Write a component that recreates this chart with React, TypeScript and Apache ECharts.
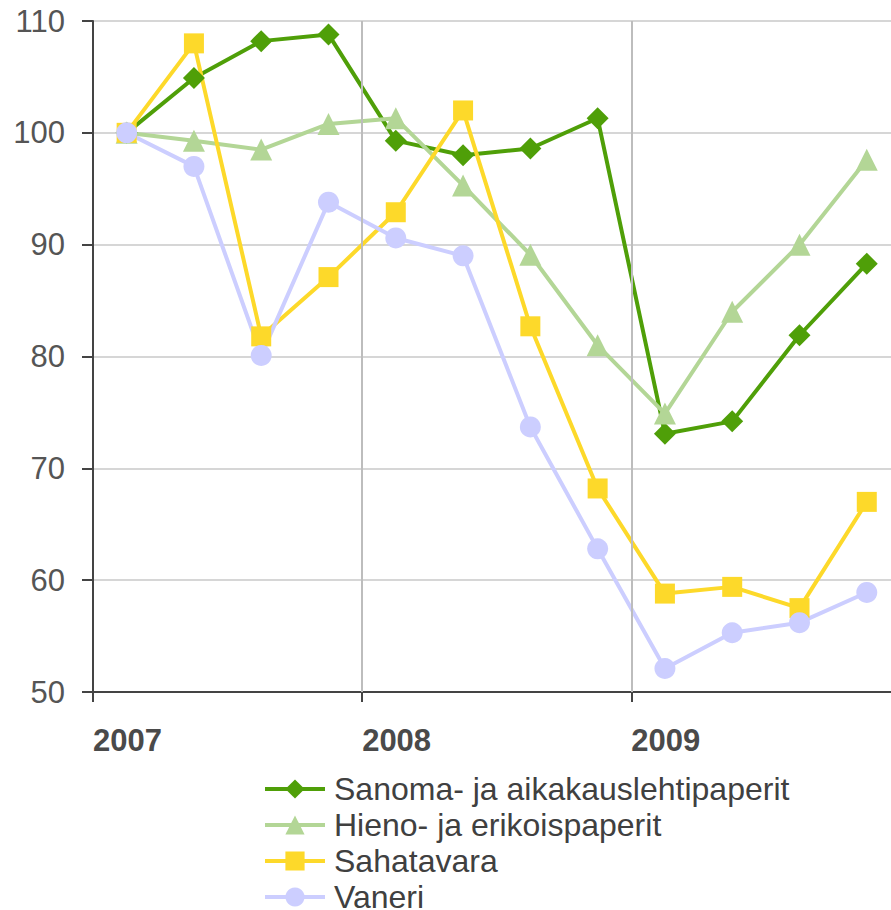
import React, { useEffect, useRef } from "react";
import * as echarts from "echarts";

const quarters = [0.5, 1.5, 2.5, 3.5, 4.5, 5.5, 6.5, 7.5, 8.5, 9.5, 10.5, 11.5];
const yearTicks = [0, 4, 8];
const yearLabels: Record<number, string> = { 0: "2007", 4: "2008", 8: "2009" };
const seriesNames = ["Sanoma- ja aikakauslehtipaperit", "Hieno- ja erikoispaperit", "Sahatavara", "Vaneri"];
const sanoma = [100, 104.9, 108.2, 108.8, 99.3, 98.0, 98.6, 101.3, 73.1, 74.2, 81.9, 88.3];
const hieno = [100, 99.3, 98.5, 100.8, 101.3, 95.3, 89.1, 81.0, 74.9, 84.0, 90.0, 97.6];
const sahatavara = [100, 108.0, 81.8, 87.1, 92.9, 102.0, 82.7, 68.2, 58.8, 59.4, 57.5, 67.0];
const vaneri = [100, 97.0, 80.1, 93.8, 90.6, 89.0, 73.7, 62.8, 52.1, 55.3, 56.2, 58.9];

const colors = ["#4f9f08", "#b3d696", "#fdd92a", "#ccceff"];
const symbols = ["diamond", "triangle", "rect", "circle"];
const symbolSizes = [22, 22, 20, 21];

export default function App() {
  const ref = useRef<HTMLDivElement>(null);
  useEffect(() => {
    const chart = echarts.init(ref.current!, null, { renderer: "svg" });
    const allData = [sanoma, hieno, sahatavara, vaneri];
    const lineSeries = seriesNames.map((name, i) => ({
      name,
      type: "line",
      z: 3,
      data: quarters.map((q, j) => [q, allData[i][j]]),
      symbol: symbols[i],
      symbolSize: symbolSizes[i],
      showAllSymbol: true,
      lineStyle: { color: colors[i], width: 4 },
      itemStyle: { color: colors[i] },
    }));
    chart.setOption({
      animation: false,
      textStyle: { fontFamily: "Liberation Sans, Arial, sans-serif" },
      grid: { left: 93, top: 21, bottom: 218, right: 0, containLabel: false },
      xAxis: {
        type: "value",
        min: 0,
        max: 11.86,
        interval: 4,
        axisLine: { show: true, onZero: false, lineStyle: { color: "#444", width: 2 } },
        axisTick: { show: true, length: 10, customValues: yearTicks, lineStyle: { color: "#444", width: 2 } },
        axisLabel: {
          show: true,
          customValues: yearTicks,
          margin: 33,
          fontSize: 31,
          fontWeight: "bold",
          color: "#4a4a4a",
          align: "left",
          formatter: (v: number) => yearLabels[v] ?? "",
        },
        splitLine: { show: false },
      },
      yAxis: {
        type: "value",
        min: 50,
        max: 110,
        interval: 10,
        axisLine: { show: true, lineStyle: { color: "#444", width: 2 } },
        axisTick: { show: true, length: 11, lineStyle: { color: "#444", width: 2 } },
        axisLabel: { margin: 28, fontSize: 31, color: "#555" },
        splitLine: { show: true, lineStyle: { color: "#d6d6d6", width: 2 } },
      },
      legend: {
        orient: "vertical",
        left: 258,
        top: 768,
        height: 200,
        itemWidth: 60,
        itemHeight: 24,
        itemGap: 4,
        lineStyle: { width: 4 },
        textStyle: { fontSize: 32, lineHeight: 32, color: "#404040", padding: [0, 0, 0, 4] },
        data: seriesNames,
      },
      series: [
        {
          name: "yearLines",
          type: "line",
          z: 1,
          data: [],
          silent: true,
          markLine: {
            silent: true,
            symbol: "none",
            label: { show: false },
            lineStyle: { color: "#bdbdbd", width: 2, type: "solid" },
            data: yearTicks.filter((v) => v > 0).map((v) => ({ xAxis: v })),
          },
        },
        ...lineSeries,
      ],
    });
    return () => chart.dispose();
  }, []);
  return <div ref={ref} style={{ width: 891, height: 910, position: "absolute", left: 0, top: 0 }} />;
}
